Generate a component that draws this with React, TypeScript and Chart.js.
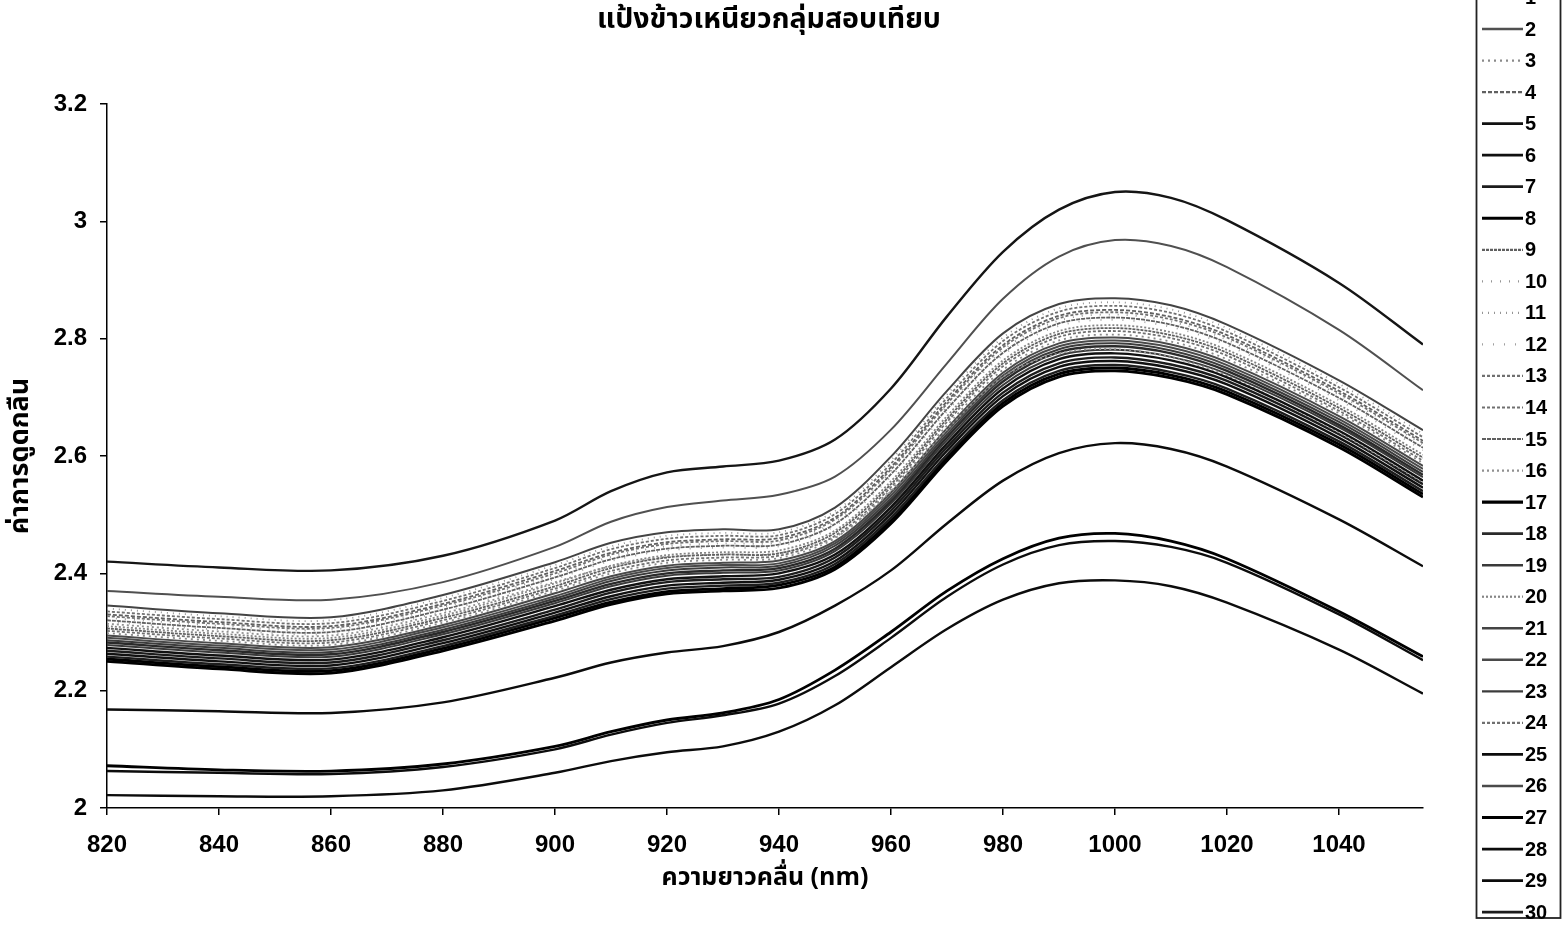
import { useEffect, useRef } from 'react';
import { Chart, registerables } from 'chart.js';

Chart.register(...registerables);

// Wavelengths (nm) at which each absorbance spectrum is sampled
const WAVELENGTHS = [820, 840, 860, 880, 900, 910, 920, 930, 940, 950, 960, 970, 980, 990, 1000, 1010, 1020, 1040, 1055];
const X_TICKS = [820, 840, 860, 880, 900, 920, 940, 960, 980, 1000, 1020, 1040];
const Y_TICKS = [2, 2.2, 2.4, 2.6, 2.8, 3, 3.2];

const TITLE = 'แป้งข้าวเหนียวกลุ่มสอบเทียบ';
const X_TITLE = 'ความยาวคลื่น (nm)';
const Y_TITLE = 'ค่าการดูดกลืน';

// Absorbance of each calibration sample
const S1 = [2.420, 2.410, 2.405, 2.430, 2.490, 2.540, 2.572, 2.582, 2.592, 2.628, 2.715, 2.838, 2.948, 3.020, 3.050, 3.040, 3.002, 2.895, 2.790];
const S2 = [2.370, 2.360, 2.355, 2.385, 2.445, 2.488, 2.513, 2.524, 2.534, 2.565, 2.645, 2.758, 2.868, 2.940, 2.968, 2.958, 2.922, 2.815, 2.712];
const S3 = [2.298, 2.285, 2.278, 2.316, 2.370, 2.400, 2.418, 2.423, 2.426, 2.460, 2.543, 2.652, 2.747, 2.797, 2.807, 2.795, 2.765, 2.673, 2.588];
const S4 = [2.330, 2.317, 2.310, 2.348, 2.404, 2.435, 2.453, 2.458, 2.460, 2.495, 2.581, 2.693, 2.789, 2.839, 2.849, 2.837, 2.806, 2.711, 2.626];
const S5 = [2.273, 2.260, 2.253, 2.291, 2.344, 2.372, 2.390, 2.395, 2.400, 2.432, 2.513, 2.621, 2.715, 2.765, 2.775, 2.763, 2.734, 2.643, 2.558];
const S6 = [2.263, 2.250, 2.243, 2.281, 2.333, 2.361, 2.379, 2.384, 2.389, 2.421, 2.501, 2.609, 2.702, 2.752, 2.762, 2.750, 2.722, 2.631, 2.546];
const S7 = [2.258, 2.245, 2.238, 2.276, 2.328, 2.356, 2.374, 2.379, 2.384, 2.416, 2.495, 2.602, 2.695, 2.745, 2.755, 2.743, 2.715, 2.625, 2.540];
const S8 = [2.250, 2.237, 2.230, 2.268, 2.319, 2.347, 2.365, 2.370, 2.375, 2.407, 2.485, 2.592, 2.685, 2.735, 2.745, 2.733, 2.705, 2.615, 2.530];
const S9 = [2.306, 2.293, 2.286, 2.324, 2.378, 2.409, 2.427, 2.432, 2.434, 2.469, 2.552, 2.663, 2.758, 2.808, 2.818, 2.806, 2.776, 2.682, 2.597];
const S10 = [2.324, 2.311, 2.304, 2.342, 2.397, 2.428, 2.446, 2.451, 2.453, 2.488, 2.574, 2.685, 2.781, 2.831, 2.841, 2.829, 2.798, 2.704, 2.619];
const S11 = [2.340, 2.327, 2.320, 2.358, 2.414, 2.446, 2.464, 2.469, 2.470, 2.506, 2.593, 2.705, 2.802, 2.852, 2.862, 2.850, 2.818, 2.723, 2.638];
const S12 = [2.317, 2.304, 2.297, 2.335, 2.390, 2.421, 2.439, 2.444, 2.446, 2.481, 2.565, 2.676, 2.772, 2.822, 2.832, 2.820, 2.789, 2.695, 2.610];
const S13 = [2.335, 2.322, 2.315, 2.353, 2.409, 2.441, 2.459, 2.464, 2.465, 2.501, 2.587, 2.699, 2.796, 2.846, 2.856, 2.844, 2.812, 2.717, 2.632];
const S14 = [2.327, 2.314, 2.307, 2.345, 2.400, 2.432, 2.450, 2.455, 2.456, 2.492, 2.577, 2.689, 2.785, 2.835, 2.845, 2.833, 2.802, 2.707, 2.622];
const S15 = [2.320, 2.307, 2.300, 2.338, 2.393, 2.424, 2.442, 2.447, 2.449, 2.484, 2.569, 2.680, 2.776, 2.826, 2.836, 2.824, 2.793, 2.699, 2.614];
const S16 = [2.314, 2.301, 2.294, 2.332, 2.385, 2.412, 2.428, 2.432, 2.434, 2.462, 2.540, 2.645, 2.735, 2.775, 2.782, 2.768, 2.737, 2.640, 2.555];
const S17 = [2.254, 2.241, 2.234, 2.272, 2.324, 2.351, 2.369, 2.374, 2.380, 2.411, 2.490, 2.597, 2.690, 2.740, 2.750, 2.738, 2.710, 2.620, 2.535];
const S18 = [2.282, 2.269, 2.262, 2.300, 2.353, 2.382, 2.400, 2.405, 2.409, 2.442, 2.523, 2.632, 2.727, 2.777, 2.787, 2.775, 2.745, 2.653, 2.568];
const S19 = [2.278, 2.265, 2.258, 2.296, 2.349, 2.378, 2.396, 2.401, 2.405, 2.438, 2.519, 2.627, 2.721, 2.771, 2.781, 2.769, 2.740, 2.649, 2.564];
const S20 = [2.310, 2.297, 2.290, 2.328, 2.383, 2.413, 2.431, 2.436, 2.439, 2.473, 2.557, 2.668, 2.763, 2.813, 2.823, 2.811, 2.781, 2.687, 2.602];
const S21 = [2.345, 2.332, 2.325, 2.363, 2.419, 2.452, 2.470, 2.475, 2.475, 2.512, 2.599, 2.711, 2.809, 2.859, 2.869, 2.857, 2.824, 2.729, 2.644];
const S22 = [2.294, 2.281, 2.274, 2.312, 2.366, 2.395, 2.413, 2.418, 2.422, 2.455, 2.538, 2.647, 2.742, 2.792, 2.802, 2.790, 2.760, 2.668, 2.583];
const S23 = [2.286, 2.273, 2.266, 2.304, 2.357, 2.387, 2.405, 2.410, 2.413, 2.447, 2.528, 2.637, 2.732, 2.782, 2.792, 2.780, 2.750, 2.658, 2.573];
const S24 = [2.302, 2.289, 2.282, 2.320, 2.374, 2.404, 2.422, 2.427, 2.430, 2.464, 2.547, 2.658, 2.753, 2.803, 2.813, 2.801, 2.771, 2.677, 2.592];
const S25 = [2.168, 2.165, 2.162, 2.180, 2.222, 2.248, 2.265, 2.276, 2.300, 2.345, 2.405, 2.485, 2.558, 2.605, 2.622, 2.612, 2.582, 2.492, 2.412];
const S26 = [2.290, 2.277, 2.270, 2.308, 2.361, 2.391, 2.409, 2.414, 2.417, 2.451, 2.533, 2.642, 2.737, 2.787, 2.797, 2.785, 2.755, 2.663, 2.578];
const S27 = [2.072, 2.065, 2.063, 2.075, 2.105, 2.130, 2.150, 2.162, 2.185, 2.235, 2.300, 2.370, 2.425, 2.460, 2.468, 2.455, 2.425, 2.335, 2.258];
const S28 = [2.063, 2.060, 2.058, 2.070, 2.100, 2.125, 2.145, 2.158, 2.178, 2.225, 2.290, 2.360, 2.415, 2.448, 2.455, 2.445, 2.418, 2.330, 2.252];
const S29 = [2.022, 2.020, 2.020, 2.030, 2.060, 2.080, 2.095, 2.105, 2.130, 2.175, 2.240, 2.305, 2.355, 2.383, 2.388, 2.378, 2.350, 2.270, 2.195];
const S30 = [2.268, 2.255, 2.248, 2.286, 2.338, 2.367, 2.385, 2.390, 2.394, 2.427, 2.507, 2.615, 2.708, 2.758, 2.768, 2.756, 2.728, 2.637, 2.552];

const SERIES = [S1, S2, S3, S4, S5, S6, S7, S8, S9, S10, S11, S12, S13, S14, S15, S16, S17, S18, S19, S20, S21, S22, S23, S24, S25, S26, S27, S28, S29, S30];
const SERIES_LABELS = SERIES.map((_, i) => String(i + 1));

// Line look per sample: [colour, width, dash]
const LINE_STYLES: [string, number, number[]][] = [
  ['#151515', 2.4, []],
  ['#505050', 2, []],
  ['#8a8a8a', 1.8, [2, 4]],
  ['#606060', 1.8, [4, 2]],
  ['#111111', 2.4, []],
  ['#111111', 2.4, []],
  ['#1c1c1c', 2.4, []],
  ['#000000', 2.8, []],
  ['#606060', 1.8, [3, 1]],
  ['#959595', 1.8, [1, 8]],
  ['#959595', 1.8, [1, 5]],
  ['#a0a0a0', 1.8, [1, 10]],
  ['#707070', 1.8, [3, 2]],
  ['#707070', 1.8, [3, 2]],
  ['#606060', 1.8, [4, 1]],
  ['#909090', 1.8, [2, 3]],
  ['#000000', 2.8, []],
  ['#2a2a2a', 2.4, []],
  ['#3a3a3a', 2, []],
  ['#858585', 1.8, [2, 2]],
  ['#444444', 2, []],
  ['#4a4a4a', 2, []],
  ['#3c3c3c', 2, []],
  ['#707070', 1.8, [3, 2]],
  ['#0c0c0c', 2.4, []],
  ['#4a4a4a', 2, []],
  ['#000000', 2.8, []],
  ['#0c0c0c', 2.4, []],
  ['#0c0c0c', 2.4, []],
  ['#1c1c1c', 2.4, []],
];

const TICK_FONT = { family: "'Liberation Sans', Arial, sans-serif", size: 24, weight: 'bold' as const };
const THAI_FAMILY = "'Noto Sans Thai', 'Loma', 'Garuda', 'Tahoma', 'DejaVu Sans', sans-serif";

// Chart title and the boxed key at the right edge
const decorPlugin = {
  id: 'sheetDecor',
  beforeDraw(chart: Chart) {
    const ctx = chart.ctx;
    ctx.save();
    ctx.fillStyle = '#ffffff';
    ctx.fillRect(0, 0, chart.width, chart.height);
    ctx.restore();
  },
  afterDraw(chart: Chart) {
    const ctx = chart.ctx;
    ctx.save();
    ctx.fillStyle = '#000';
    ctx.font = `bold 28.5px ${THAI_FAMILY}`;
    ctx.textAlign = 'center';
    ctx.textBaseline = 'middle';
    ctx.fillText(TITLE, 769, 22);

    ctx.strokeStyle = '#222';
    ctx.lineWidth = 1.8;
    ctx.strokeRect(1476.5, -10, 84, 928);

    chart.data.datasets.forEach((ds: any, i: number) => {
      const y = 29 + (i - 1) * 31.54;
      ctx.beginPath();
      ctx.setLineDash(ds.borderDash || []);
      ctx.strokeStyle = ds.borderColor;
      ctx.lineWidth = ds.borderWidth + 0.4;
      ctx.moveTo(1482, y);
      ctx.lineTo(1523, y);
      ctx.stroke();
      ctx.setLineDash([]);
      ctx.fillStyle = '#000';
      ctx.font = "bold 20px 'Liberation Sans', Arial, sans-serif";
      ctx.textAlign = 'left';
      ctx.textBaseline = 'middle';
      ctx.fillText(ds.label, 1525, y + 1);
    });
    ctx.restore();
  },
};

export default function App() {
  const canvasRef = useRef<HTMLCanvasElement | null>(null);

  useEffect(() => {
    document.body.style.margin = '0';
    const canvas = canvasRef.current;
    if (!canvas) return;

    const datasets = SERIES.map((values, i) => ({
      label: SERIES_LABELS[i],
      data: WAVELENGTHS.map((x, j) => ({ x, y: values[j] })),
      borderColor: LINE_STYLES[i][0],
      borderWidth: LINE_STYLES[i][1],
      borderDash: LINE_STYLES[i][2],
      pointRadius: 0,
      fill: false,
      tension: 0.32,
    }));

    const chart = new Chart(canvas, {
      type: 'line',
      data: { datasets },
      plugins: [decorPlugin],
      options: {
        animation: false,
        responsive: false,
        devicePixelRatio: 1,
        layout: { padding: { left: 0, right: 139, top: 104, bottom: 0 } },
        plugins: {
          legend: { display: false },
          tooltip: { enabled: false },
          title: { display: false },
        },
        scales: {
          x: {
            type: 'linear',
            min: 820,
            max: 1055,
            afterBuildTicks: (scale: any) => {
              scale.ticks = X_TICKS.map((v) => ({ value: v }));
            },
            afterFit: (scale: any) => {
              scale.height = 119;
            },
            grid: { drawOnChartArea: false, drawTicks: true, tickLength: 7, color: '#000', lineWidth: 1.5 },
            border: { display: true, color: '#000', width: 1.5 },
            ticks: {
              color: '#000',
              font: TICK_FONT,
              padding: 16,
              maxRotation: 0,
              autoSkip: false,
              callback: (v: any) => String(v),
            },
            title: {
              display: true,
              text: X_TITLE,
              color: '#000',
              font: { family: THAI_FAMILY, size: 25, weight: 'bold' },
              padding: { top: 0, bottom: 32 },
            },
          },
          y: {
            type: 'linear',
            min: 2,
            max: 3.2,
            afterBuildTicks: (scale: any) => {
              scale.ticks = Y_TICKS.map((v) => ({ value: v }));
            },
            afterFit: (scale: any) => {
              scale.width = 107;
            },
            grid: { drawOnChartArea: false, drawTicks: true, tickLength: 7, color: '#000', lineWidth: 1.5 },
            border: { display: true, color: '#000', width: 1.5 },
            ticks: {
              color: '#000',
              font: TICK_FONT,
              padding: 13,
              callback: (v: any) => String(Number(Number(v).toFixed(1))),
            },
            title: {
              display: true,
              text: Y_TITLE,
              color: '#000',
              font: { family: THAI_FAMILY, size: 27, weight: 'bold' },
              padding: { top: 6, bottom: 0 },
            },
          },
        },
      },
    });

    return () => chart.destroy();
  }, []);

  return <canvas ref={canvasRef} width={1562} height={927} style={{ display: 'block' }} />;
}
